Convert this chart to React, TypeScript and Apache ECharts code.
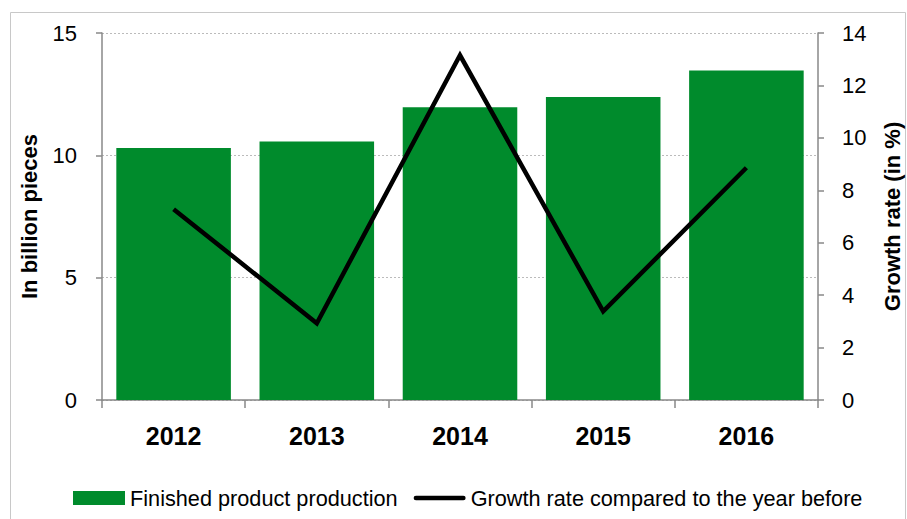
import React, { useEffect, useRef } from "react";
import * as echarts from "echarts";

const years = ["2012", "2013", "2014", "2015", "2016"];
const production = [10.3, 10.57, 11.97, 12.38, 13.47];
const growthRate = [7.28, 2.93, 13.15, 3.38, 8.86];
const leftTicks = [0, 5, 10, 15];

const FONT = "'Liberation Sans', Arial, sans-serif";
const GREEN = "#008b2c";

export default function App() {
  const ref = useRef<HTMLDivElement>(null);
  useEffect(() => {
    if (!ref.current) return;
    const chart = echarts.init(ref.current, null, { renderer: "svg" });
    chart.setOption({
      animation: false,
      textStyle: { fontFamily: FONT },
      graphic: [
        {
          type: "rect",
          shape: { x: 10.5, y: 12.5, width: 895, height: 520 },
          style: { fill: "none", stroke: "#c8c8c8", lineWidth: 1 },
          silent: true,
        },
      ],
      grid: { left: 102, right: 89, top: 33, bottom: 119, outerBoundsMode: "none", containLabel: false },
      legend: {
        left: 68,
        top: 482,
        itemWidth: 52,
        itemHeight: 14,
        itemGap: 16,
        symbolKeepAspect: true,
        textStyle: { fontFamily: FONT, fontSize: 21.7, color: "#000" },
        data: [
          { name: "Finished product production", icon: "rect" },
          {
            name: "Growth rate compared to the year before",
            icon: "path://M2,0H54A2,2 0 0 1 54,5H2A2,2 0 0 1 2,0Z",
            itemStyle: { color: "#000" },
          },
        ],
      },
      xAxis: {
        type: "category",
        data: years,
        axisLine: { lineStyle: { color: "#888", width: 1.5 } },
        axisTick: { show: true, length: 8, lineStyle: { color: "#888", width: 1.5 } },
        axisLabel: {
          fontFamily: FONT,
          fontSize: 25,
          fontWeight: "bold",
          color: "#000",
          margin: 23,
        },
      },
      yAxis: [
        {
          type: "value",
          min: leftTicks[0],
          max: leftTicks[leftTicks.length - 1],
          interval: 5,
          name: "In billion pieces",
          nameLocation: "middle",
          nameRotate: 90,
          nameGap: 62,
          nameTextStyle: { fontFamily: FONT, fontSize: 22, fontWeight: "bold", color: "#000" },
          axisLine: { show: true, lineStyle: { color: "#888", width: 1.5 } },
          axisTick: { show: true, length: 6, lineStyle: { color: "#888", width: 1.5 } },
          axisLabel: { fontFamily: FONT, fontSize: 22, color: "#000", margin: 25 },
          splitLine: { show: true, lineStyle: { color: "#bbb", type: [2, 2], width: 1 } },
        },
        {
          type: "value",
          min: 0,
          max: 14,
          interval: 2,
          position: "right",
          name: "Growth rate (in %)",
          nameLocation: "middle",
          nameRotate: 90,
          nameGap: 63,
          nameTextStyle: { fontFamily: FONT, fontSize: 22, fontWeight: "bold", color: "#000" },
          axisLine: { show: true, lineStyle: { color: "#888", width: 1.5 } },
          axisTick: { show: true, length: 6, lineStyle: { color: "#888", width: 1.5 } },
          axisLabel: { fontFamily: FONT, fontSize: 22, color: "#000", margin: 24 },
          splitLine: { show: false },
        },
      ],
      series: [
        {
          name: "Finished product production",
          type: "bar",
          data: production,
          yAxisIndex: 0,
          barCategoryGap: "20%",
          itemStyle: { color: GREEN },
        },
        {
          name: "Growth rate compared to the year before",
          type: "line",
          data: growthRate,
          yAxisIndex: 1,
          symbol: "none",
          lineStyle: { color: "#000", width: 4.5, join: "miter" },
          itemStyle: { color: "#000" },
        },
      ],
    });
    return () => chart.dispose();
  }, []);
  return (
    <div
      ref={ref}
      style={{ position: "absolute", left: 0, top: 0, width: 907, height: 519, background: "#fff" }}
    />
  );
}
